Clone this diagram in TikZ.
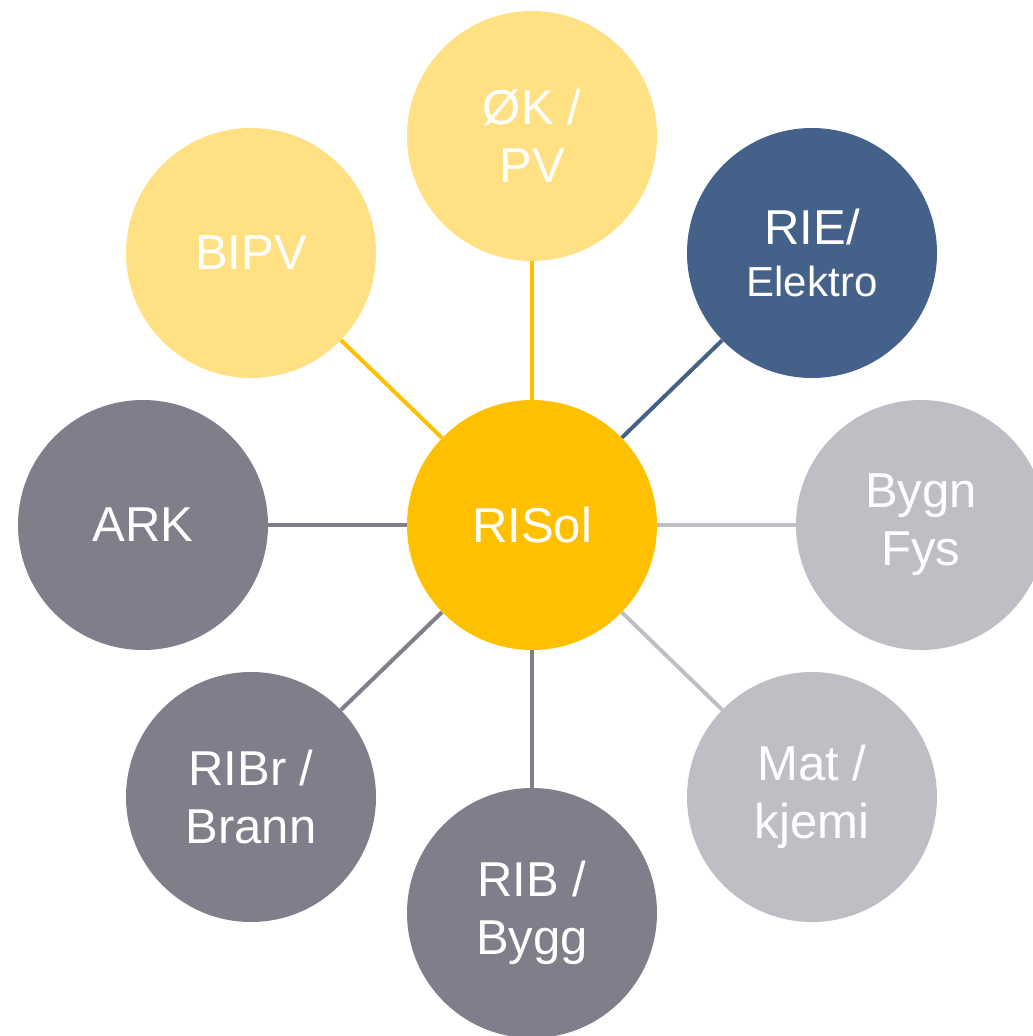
\documentclass[tikz,border=0pt]{standalone}
\usepackage{fontspec}
\setmainfont{Liberation Sans}
\definecolor{lightyellow}{HTML}{FFE083}
\definecolor{gold}{HTML}{FFC000}
\definecolor{steelblue}{HTML}{44618A}
\definecolor{midgray}{HTML}{7F7E8A}
\definecolor{lightgray}{HTML}{BFBEC4}
\tikzset{
  disc/.style={circle, minimum size=250pt, inner sep=0pt, text=white, align=center,
    font=\fontsize{49}{58}\selectfont},
  link/.style={line width=4pt}
}
\begin{document}
\begin{tikzpicture}[x=1pt,y=-1pt]
\useasboundingbox (0,0) rectangle (1033,1036);
\clip (0,0) rectangle (1033,1036);
\node[disc, fill=gold] (c) at (532,525) {RISol};
\node[disc, fill=lightyellow] (ok) at (532,136) {ØK /\\PV};
\node[disc, fill=steelblue] (rie) at (812,253) {RIE/\\[-6pt]{\fontsize{42}{50}\selectfont Elektro}};
\node[disc, fill=lightgray] (byg) at (921,525) {Bygn\\Fys};
\node[disc, fill=lightgray] (mat) at (812,797) {Mat /\\kjemi};
\node[disc, fill=midgray] (rib) at (532,913) {RIB /\\Bygg};
\node[disc, fill=midgray] (ribr) at (251,797) {RIBr /\\Brann};
\node[disc, fill=midgray] (ark) at (143,525) {ARK};
\node[disc, fill=lightyellow] (bipv) at (251,253) {BIPV};
\draw[link, gold] (c) -- (ok);
\draw[link, gold] (c) -- (bipv);
\draw[link, steelblue] (c) -- (rie);
\draw[link, lightgray] (c) -- (byg);
\draw[link, lightgray] (c) -- (mat);
\draw[link, midgray] (c) -- (rib);
\draw[link, midgray] (c) -- (ribr);
\draw[link, midgray] (c) -- (ark);
\end{tikzpicture}
\end{document}
